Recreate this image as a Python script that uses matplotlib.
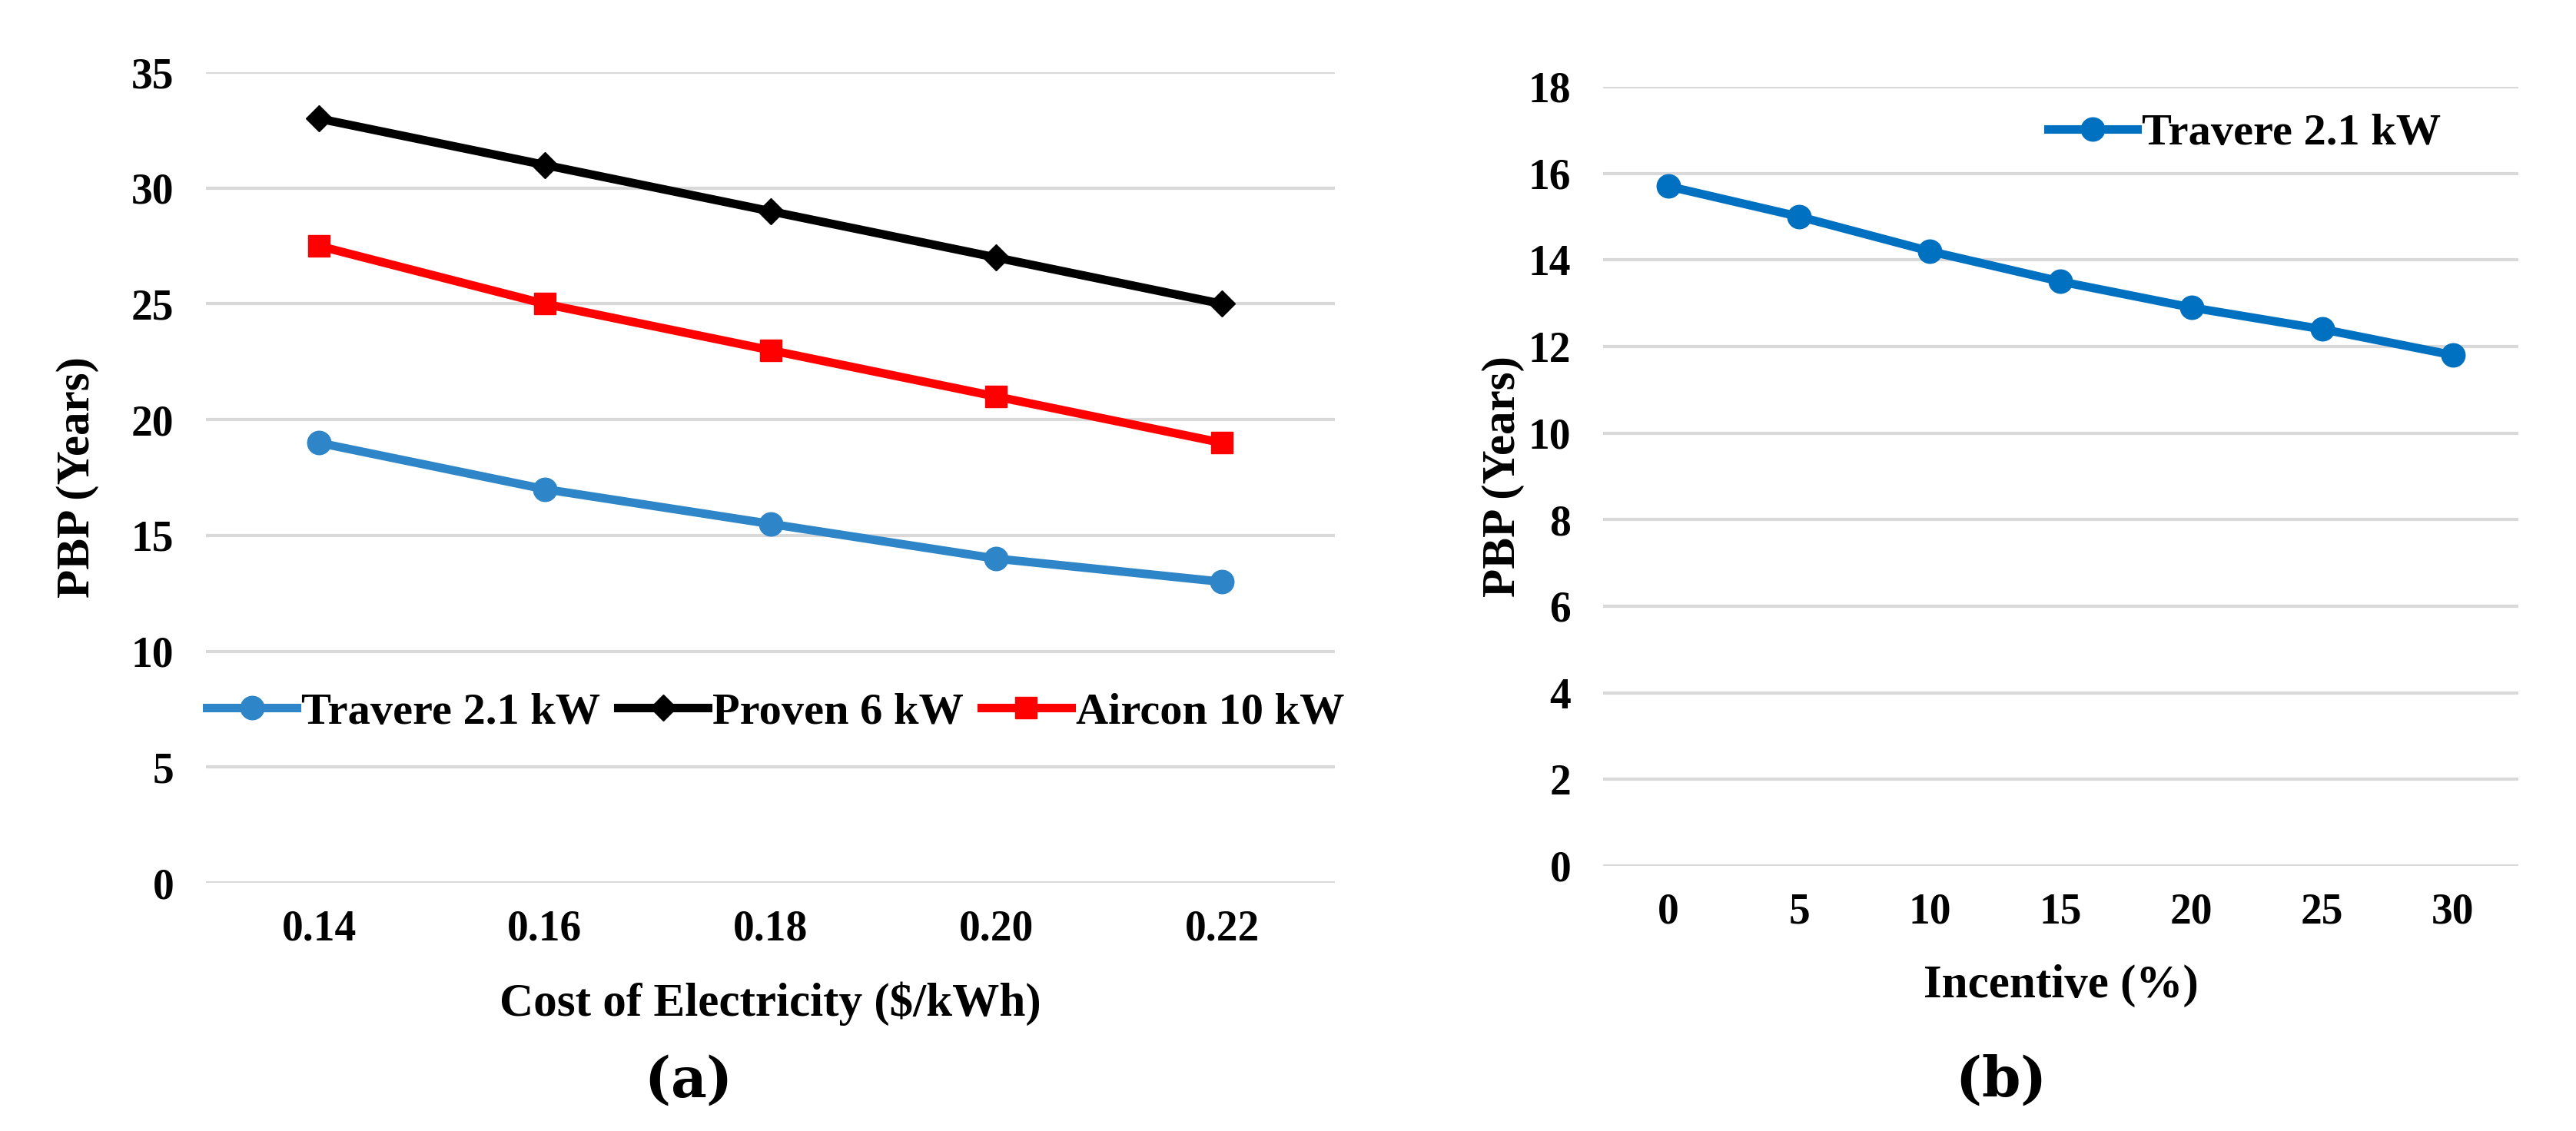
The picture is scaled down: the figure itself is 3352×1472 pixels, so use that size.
import numpy as np
import matplotlib
matplotlib.use('Agg')
import matplotlib.pyplot as plt

plt.rcParams['font.family'] = 'Liberation Serif'
plt.rcParams['font.weight'] = 'bold'
plt.rcParams['axes.labelweight'] = 'bold'
plt.rcParams['mathtext.fontset'] = 'dejavuserif'

#Given data
cost = ['0.14', '0.16', '0.18', '0.20', '0.22']
travere = [19, 17, 15.5, 14, 13]
proven = [33, 31, 29, 27, 25]
aircon = [27.5, 25, 23, 21, 19]

incentive = ['0', '5', '10', '15', '20', '25', '30']
travere_inc = [15.7, 15.0, 14.2, 13.5, 12.9, 12.4, 11.8]

left_ticks = [0, 5, 10, 15, 20, 25, 30, 35]
right_ticks = [0, 2, 4, 6, 8, 10, 12, 14, 16, 18]

grid_col = '#d9d9d9'
tsize = 40
lsize = 44

fig = plt.figure(figsize=(33.52, 14.72), dpi=100)
ax1 = fig.add_axes([0.0800, 0.2194, 0.4382, 0.7167])
ax2 = fig.add_axes([0.6223, 0.2344, 0.3553, 0.6889])

def style(ax, yt, cats):
    for s in ax.spines.values():
        s.set_visible(False)
    ax.set_yticks(yt)
    ax.set_ylim(yt[0], yt[-1])
    ax.set_xticks(np.arange(len(cats)))
    ax.set_xticklabels(cats)
    ax.set_xlim(-0.5, len(cats) - 0.5)
    ax.tick_params(length=0, labelsize=tsize, pad=25)
    ax.tick_params(axis='y', pad=30)
    ax.grid(axis='y', color=grid_col, linewidth=3)
    ax.set_axisbelow(True)

##Panel (a)
x1 = np.arange(len(cost))
ax1.plot(x1, travere, color='#2e86c8', lw=8, marker='o', ms=22, label='Travere 2.1 kW', clip_on=False)
ax1.plot(x1, proven, color='black', lw=8, marker='D', ms=17, label='Proven 6 kW', clip_on=False)
ax1.plot(x1, aircon, color='#ff0000', lw=8, marker='s', ms=20, label='Aircon 10 kW', clip_on=False)
style(ax1, left_ticks, cost)
ax1.set_xlabel('Cost of Electricity ($/kWh)', fontsize=lsize, labelpad=30)
ax1.set_ylabel('PBP (Years)', fontsize=lsize, labelpad=30)
ax1.legend(loc='center left', bbox_to_anchor=(-0.015, 0.21), ncol=3, frameon=False,
           fontsize=42, handlelength=2.0, handletextpad=0.1, columnspacing=0.4,
           borderaxespad=0)

##Panel (b)
x2 = np.arange(len(incentive))
ax2.plot(x2, travere_inc, color='#0070c0', lw=8, marker='o', ms=22, label='Travere 2.1 kW', clip_on=False)
style(ax2, right_ticks, incentive)
ax2.set_xlabel('Incentive (%)', fontsize=lsize, labelpad=30)
ax2.set_ylabel('PBP (Years)', fontsize=lsize, labelpad=3)
ax2.legend(loc='center right', bbox_to_anchor=(0.935, 0.94), frameon=False,
           fontsize=42, handlelength=2.0, handletextpad=0.1, borderaxespad=0)

fig.text(0.2664, 0.044, r'$(\mathbf{a})$', fontsize=52, ha='center', va='center')
fig.text(0.776, 0.044, r'$(\mathbf{b})$', fontsize=52, ha='center', va='center')

plt.savefig('out.png', dpi=100)
